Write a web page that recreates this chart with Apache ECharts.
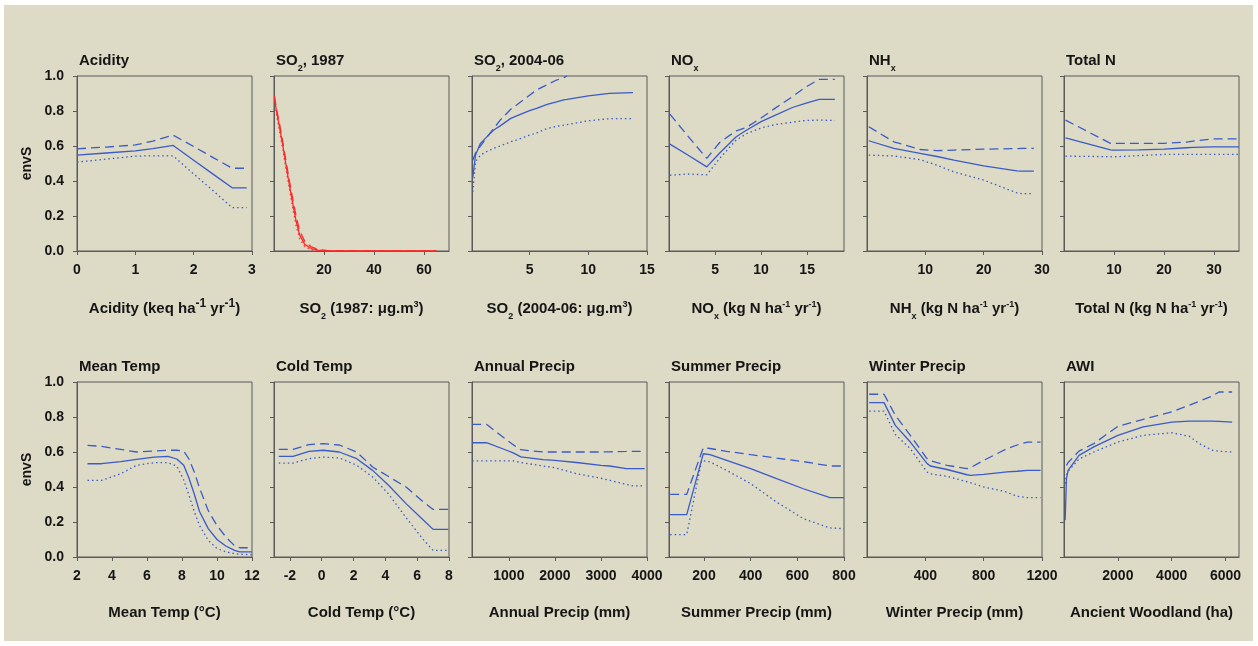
<!DOCTYPE html>
<html><head><meta charset="utf-8">
<script src="https://cdn.jsdelivr.net/npm/echarts@6/dist/echarts.min.js"></script>
<style>
html,body{margin:0;padding:0;background:#ffffff;}
#frame{position:absolute;left:4px;top:5px;width:1249px;height:636px;background:#dddac6;}
#chart{position:absolute;left:0;top:0;width:1258px;height:646px;}
</style>
</head><body>
<div id="frame"></div><div id="chart"></div>
<script>
// ---------- DATA ----------
// Acidity
const acidityX     = [0, 0.5, 1.0, 1.3, 1.65, 2.0, 2.35, 2.66, 2.91];
const acidityMean  = [0.548, 0.560, 0.572, 0.585, 0.603, 0.519, 0.435, 0.361, 0.361];
const acidityUpper = [0.584, 0.594, 0.606, 0.628, 0.662, 0.597, 0.531, 0.473, 0.473];
const acidityLower = [0.508, 0.525, 0.542, 0.544, 0.544, 0.440, 0.340, 0.248, 0.248];
const acidityTicks = [0, 1, 2, 3];
// SO2 1987
const so87X     = [0.2, 0.9, 2.3, 3.6, 4.9, 6.3, 7.6, 8.9, 10.3, 12.3, 14.9, 17.6, 21, 30, 45, 65];
const so87Mean  = [0.873, 0.806, 0.701, 0.596, 0.482, 0.367, 0.263, 0.167, 0.091, 0.038, 0.014, 0.005, 0.001, 0, 0, 0];
const so87Upper = [0.885, 0.820, 0.720, 0.615, 0.505, 0.390, 0.290, 0.195, 0.115, 0.055, 0.024, 0.009, 0.003, 0.001, 0, 0];
const so87Lower = [0.860, 0.790, 0.680, 0.575, 0.460, 0.345, 0.238, 0.142, 0.070, 0.025, 0.007, 0.002, 0, 0, 0, 0];
const so87Ticks = [20, 40, 60];
// SO2 2004-06
const so04X     = [0.17, 0.4, 0.82, 1.4, 1.95, 2.5, 3.4, 3.9, 5, 5.6, 6.5, 7.3, 7.9, 8.2, 10, 11.8, 13.8];
const so04Mean  = [0.424, 0.548, 0.615, 0.655, 0.691, 0.715, 0.758, 0.772, 0.802, 0.815, 0.838, 0.852, 0.863, 0.866, 0.887, 0.901, 0.905];
const so04Upper = [0.519, 0.560, 0.600, 0.653, 0.700, 0.748, 0.810, 0.834, 0.890, 0.920, 0.950, 0.977, 0.990, 1.000, null, null, null];
const so04Lower = [0.338, 0.510, 0.548, 0.570, 0.586, 0.600, 0.624, 0.635, 0.662, 0.675, 0.700, 0.712, 0.719, 0.722, 0.744, 0.756, 0.756];
const so04Ticks = [5, 10, 15];
// NOx
const noxX     = [0.1, 2, 4.1, 5.5, 7.3, 8.4, 10, 11.5, 13.4, 14.8, 16.3, 18];
const noxMean  = [0.611, 0.550, 0.481, 0.560, 0.653, 0.690, 0.739, 0.775, 0.820, 0.844, 0.866, 0.866];
const noxUpper = [0.782, 0.660, 0.529, 0.620, 0.687, 0.706, 0.760, 0.815, 0.882, 0.935, 0.981, 0.981];
const noxLower = [0.433, 0.440, 0.435, 0.529, 0.634, 0.670, 0.703, 0.722, 0.736, 0.746, 0.748, 0.746];
const noxTicks = [5, 10, 15];
// NHx
const nhxX     = [0.3, 4.6, 9.1, 12, 14.9, 20, 25.7, 26.5, 28.6];
const nhxMean  = [0.630, 0.586, 0.558, 0.540, 0.519, 0.487, 0.458, 0.456, 0.456];
const nhxUpper = [0.710, 0.624, 0.580, 0.573, 0.577, 0.582, 0.585, 0.586, 0.586];
const nhxLower = [0.548, 0.543, 0.522, 0.490, 0.452, 0.405, 0.332, 0.328, 0.328];
const nhxTicks = [10, 20, 30];
// Total N
const totNX     = [0.3, 9.3, 9.8, 15, 20, 24.5, 25.8, 29.8, 35];
const totNMean  = [0.647, 0.578, 0.576, 0.578, 0.582, 0.590, 0.592, 0.595, 0.595];
const totNUpper = [0.748, 0.615, 0.615, 0.615, 0.615, 0.622, 0.628, 0.641, 0.641];
const totNLower = [0.542, 0.539, 0.538, 0.545, 0.552, 0.552, 0.552, 0.552, 0.552];
const totNTicks = [10, 20, 30];
// Mean Temp
const mtX     = [2.6, 3.4, 4.5, 5.4, 6.4, 7.2, 7.7, 8.1, 8.4, 8.7, 9.0, 9.5, 10.0, 10.5, 11.0, 11.3, 12];
const mtMean  = [0.533, 0.533, 0.545, 0.558, 0.571, 0.575, 0.560, 0.524, 0.450, 0.360, 0.260, 0.162, 0.100, 0.063, 0.038, 0.029, 0.029];
const mtUpper = [0.638, 0.632, 0.615, 0.600, 0.606, 0.610, 0.610, 0.605, 0.560, 0.486, 0.395, 0.265, 0.180, 0.115, 0.065, 0.053, 0.053];
const mtLower = [0.438, 0.438, 0.476, 0.524, 0.539, 0.539, 0.520, 0.440, 0.352, 0.260, 0.180, 0.095, 0.048, 0.030, 0.019, 0.016, 0.013];
const mtTicks = [2, 4, 6, 8, 10, 12];
// Cold Temp
const ctX     = [-2.7, -1.8, -0.8, 0.1, 1.1, 2.2, 3.2, 4.2, 5.3, 6.4, 7.0, 7.95];
const ctMean  = [0.575, 0.575, 0.604, 0.610, 0.600, 0.562, 0.495, 0.410, 0.305, 0.210, 0.158, 0.158];
const ctUpper = [0.615, 0.615, 0.642, 0.648, 0.640, 0.600, 0.514, 0.460, 0.400, 0.314, 0.272, 0.272];
const ctLower = [0.537, 0.537, 0.562, 0.571, 0.566, 0.524, 0.457, 0.360, 0.225, 0.098, 0.038, 0.038];
const ctTicks = [-2, 0, 2, 4, 6, 8];
// Annual Precip
const apX     = [205, 516, 950, 1094, 1260, 1745, 2000, 2470, 3000, 3190, 3550, 3700, 3950];
const apMean  = [0.653, 0.653, 0.610, 0.595, 0.572, 0.556, 0.552, 0.540, 0.524, 0.520, 0.505, 0.505, 0.505];
const apUpper = [0.758, 0.758, 0.670, 0.642, 0.613, 0.600, 0.600, 0.600, 0.600, 0.601, 0.603, 0.604, 0.604];
const apLower = [0.549, 0.549, 0.549, 0.549, 0.540, 0.520, 0.510, 0.476, 0.450, 0.438, 0.415, 0.406, 0.406];
const apTicks = [1000, 2000, 3000, 4000];
// Summer Precip
const spX     = [55, 126, 190, 197, 226, 297, 400, 511, 626, 740, 800];
const spMean  = [0.242, 0.242, 0.556, 0.590, 0.585, 0.552, 0.505, 0.448, 0.390, 0.339, 0.339];
const spUpper = [0.358, 0.358, 0.599, 0.625, 0.620, 0.604, 0.585, 0.565, 0.545, 0.520, 0.520];
const spLower = [0.128, 0.128, 0.552, 0.550, 0.543, 0.495, 0.419, 0.314, 0.219, 0.166, 0.162];
const spTicks = [200, 400, 600, 800];
// Winter Precip
const wpX     = [15, 117, 194, 297, 411, 434, 549, 686, 709, 800, 914, 960, 1029, 1100, 1190];
const wpMean  = [0.882, 0.882, 0.752, 0.657, 0.535, 0.520, 0.500, 0.470, 0.467, 0.472, 0.482, 0.486, 0.490, 0.495, 0.495];
const wpUpper = [0.930, 0.930, 0.810, 0.695, 0.562, 0.550, 0.524, 0.505, 0.510, 0.552, 0.600, 0.619, 0.640, 0.657, 0.657];
const wpLower = [0.834, 0.834, 0.700, 0.619, 0.486, 0.475, 0.461, 0.430, 0.425, 0.400, 0.380, 0.370, 0.347, 0.339, 0.339];
const wpTicks = [400, 800, 1200];
// AWI
const awiX     = [43, 92, 153, 557, 1107, 2000, 2942, 4006, 4654, 5022, 5511, 5755, 6245];
const awiMean  = [0.210, 0.448, 0.495, 0.581, 0.629, 0.695, 0.743, 0.771, 0.777, 0.777, 0.777, 0.775, 0.771];
const awiUpper = [null, 0.524, 0.540, 0.605, 0.648, 0.747, 0.787, 0.829, 0.867, 0.890, 0.920, 0.943, 0.943];
const awiLower = [0.419, 0.470, 0.490, 0.560, 0.600, 0.657, 0.695, 0.710, 0.690, 0.648, 0.610, 0.604, 0.600];
const awiTicks = [2000, 4000, 6000];

const panels = [
  {title:'{b|Acidity}', xname:'{b|Acidity (keq ha}{supL|-1}{b| yr}{supL|-1}{b|)}', min:0, max:3, x:acidityX, m:acidityMean, u:acidityUpper, l:acidityLower, ticks:acidityTicks},
  {title:'{b|SO}{sub|2}{b|, 1987}', xname:'{b|SO}{sub|2}{b| (1987: μg.m}{sup|3}{b|)}', min:0, max:70, x:so87X, m:so87Mean, u:so87Upper, l:so87Lower, ticks:so87Ticks, red:true},
  {title:'{b|SO}{sub|2}{b|, 2004-06}', xname:'{b|SO}{sub|2}{b| (2004-06: μg.m}{sup|3}{b|)}', min:0.1, max:15, x:so04X, m:so04Mean, u:so04Upper, l:so04Lower, ticks:so04Ticks},
  {title:'{b|NO}{sub|x}', xname:'{b|NO}{sub|x}{b| (kg N ha}{sup|-1}{b| yr}{sup|-1}{b|)}', min:0, max:19, x:noxX, m:noxMean, u:noxUpper, l:noxLower, ticks:noxTicks},
  {title:'{b|NH}{sub|x}', xname:'{b|NH}{sub|x}{b| (kg N ha}{sup|-1}{b| yr}{sup|-1}{b|)}', min:0, max:30, x:nhxX, m:nhxMean, u:nhxUpper, l:nhxLower, ticks:nhxTicks},
  {title:'{b|Total N}', xname:'{b|Total N (kg N ha}{sup|-1}{b| yr}{sup|-1}{b|)}', min:0, max:35, x:totNX, m:totNMean, u:totNUpper, l:totNLower, ticks:totNTicks},
  {title:'{b|Mean Temp}', xname:'{b|Mean Temp (°C)}', min:2, max:12, x:mtX, m:mtMean, u:mtUpper, l:mtLower, ticks:mtTicks},
  {title:'{b|Cold Temp}', xname:'{b|Cold Temp (°C)}', min:-3, max:8, x:ctX, m:ctMean, u:ctUpper, l:ctLower, ticks:ctTicks},
  {title:'{b|Annual Precip}', xname:'{b|Annual Precip (mm)}', min:200, max:4000, x:apX, m:apMean, u:apUpper, l:apLower, ticks:apTicks},
  {title:'{b|Summer Precip}', xname:'{b|Summer Precip (mm)}', min:50, max:800, x:spX, m:spMean, u:spUpper, l:spLower, ticks:spTicks},
  {title:'{b|Winter Precip}', xname:'{b|Winter Precip (mm)}', min:0, max:1200, x:wpX, m:wpMean, u:wpUpper, l:wpLower, ticks:wpTicks},
  {title:'{b|AWI}', xname:'{b|Ancient Woodland (ha)}', min:0, max:6500, x:awiX, m:awiMean, u:awiUpper, l:awiLower, ticks:awiTicks}
];

// ---------- LAYOUT / STYLE ----------
const FONT = '"Liberation Sans", Arial, Helvetica, sans-serif';
const TXT = '#151515';
const AX = '#5a5a5a';
const BLUE = '#3a5bc9';
const RED = '#ff2a2a';
const colLefts = [77, 274, 472, 669, 867, 1064];
const rowTops = [76, 382];
const nameGaps = [49, 47];
const W = 175, H = 175;

function rich(size) {
  return {
    b:   {fontFamily:FONT, fontWeight:'bold', fontSize:size, color:TXT, lineHeight:18, verticalAlign:'middle'},
    sub: {fontFamily:FONT, fontWeight:'bold', fontSize:Math.round(size*0.62), color:TXT, lineHeight:10, verticalAlign:'bottom', padding:[0,0,-3,0]},
    sup: {fontFamily:FONT, fontWeight:'bold', fontSize:Math.round(size*0.62), color:TXT, lineHeight:10, verticalAlign:'top'},
    supL:{fontFamily:FONT, fontWeight:'bold', fontSize:Math.round(size*0.8), color:TXT, lineHeight:12, verticalAlign:'top', padding:[-2,0,0,0]}
  };
}

const grids = [], xAxes = [], yAxes = [], series = [], titles = [];
panels.forEach((p, i) => {
  const row = Math.floor(i / 6), col = i % 6;
  grids.push({left: colLefts[col], top: rowTops[row], width: W, height: H,
    show: true, borderColor: AX, borderWidth: 1, backgroundColor: 'transparent', containLabel: false});
  titles.push({text: p.title, left: colLefts[col] + 2, top: rowTops[row] - 24, padding: 0,
    textStyle: {rich: rich(15), fontFamily: FONT}});
  xAxes.push({type:'value', gridIndex:i, min:p.min, max:p.max,
    name: p.xname, nameLocation:'middle', nameGap: nameGaps[row],
    nameTextStyle: {rich: rich(15), fontFamily: FONT},
    axisLine: {show:true, onZero:false, lineStyle:{color:AX, width:1}},
    axisTick: {show:true, inside:false, length:4, customValues:p.ticks, lineStyle:{color:AX}},
    axisLabel: {show:true, margin:12, customValues:p.ticks, formatter: v => String(v),
      fontFamily:FONT, fontWeight:'bold', fontSize:14, color:TXT},
    splitLine: {show:false}});
  yAxes.push({type:'value', gridIndex:i, min:0, max:1, interval:0.2,
    name: col === 0 ? 'envS' : '', nameLocation:'middle', nameGap: 43,
    nameTextStyle: {fontFamily:FONT, fontWeight:'bold', fontSize:14, color:TXT},
    axisLine: {show:true, onZero:false, lineStyle:{color:AX, width:1}},
    axisTick: {show:true, inside:false, length:4, lineStyle:{color:AX}},
    axisLabel: {show: col === 0, margin:13, formatter: v => v.toFixed(1),
      fontFamily:FONT, fontWeight:'bold', fontSize:14, color:TXT},
    splitLine: {show:false}});
  const color = p.red ? RED : BLUE;
  const mk = (arr) => p.x.map((xv, j) => [xv, arr[j]]).filter(d => d[1] !== null);
  const common = {type:'line', xAxisIndex:i, yAxisIndex:i, showSymbol:false, symbol:'none', silent:true, clip:true, animation:false, smooth:false};
  series.push(Object.assign({}, common, {name:'upper'+i, data: mk(p.u), lineStyle:{color, width:1.3, type:[9,5]}}));
  series.push(Object.assign({}, common, {name:'lower'+i, data: mk(p.l), lineStyle:{color, width:1.3, type:[1.5,3]}}));
  series.push(Object.assign({}, common, {name:'mean'+i, data: mk(p.m), lineStyle:{color, width:1.3, type:'solid'}}));
});

const chart = echarts.init(document.getElementById('chart'), null, {renderer:'canvas'});
chart.setOption({
  backgroundColor: 'transparent',
  animation: false,
  title: titles,
  grid: grids,
  xAxis: xAxes,
  yAxis: yAxes,
  series: series
});
</script>
</body></html>
